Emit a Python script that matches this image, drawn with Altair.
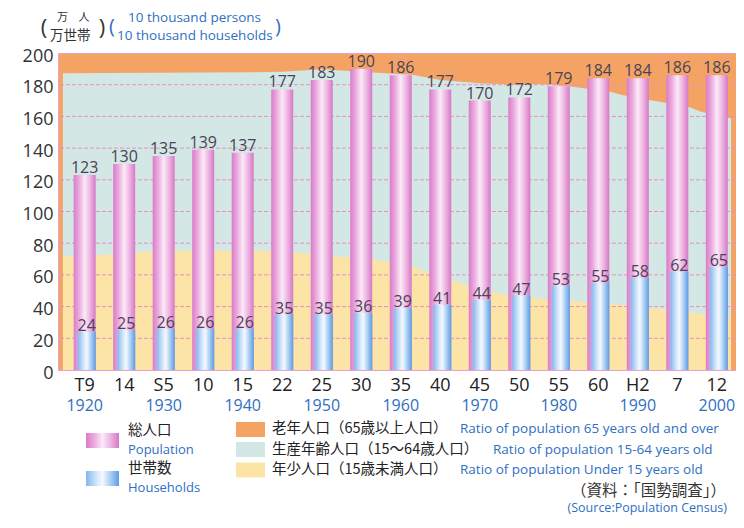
import altair as alt
import pandas as pd

# ---------------- data ----------------
era_labels = ["T9", "14", "S5", "10", "15", "22", "25", "30", "35", "40", "45", "50", "55", "60", "H2", "7", "12"]
year_labels = ["1920", "", "1930", "", "1940", "", "1950", "", "1960", "", "1970", "", "1980", "", "1990", "", "2000"]
population = [123, 130, 135, 139, 137, 177, 183, 190, 186, 177, 170, 172, 179, 184, 184, 186, 186]
households = [24, 25, 26, 26, 26, 35, 35, 36, 39, 41, 44, 47, 53, 55, 58, 62, 65]

# background bands (axis units, 200 = 100 %)
work_x = [-0.55, 4.2, 5.0, 6.0, 7.5, 8.33, 9.0, 10.0, 11.0, 11.5, 12.3, 13.3, 13.6, 14.3, 15.3, 15.6, 16.36]
work_top = [187.2, 187.8, 188.2, 189.7, 187.4, 186.1, 183.0, 180.9, 179.8, 180.5, 178.8, 175.6, 173.5, 170.3, 166.0, 163.0, 158.8]
youth_x = [-0.55, 0.5, 1.5, 2.5, 3.5, 4.5, 5.5, 6.5, 7.3, 8.33, 8.73, 9.5, 10.5, 11.5, 12.5, 13.5, 14.5, 15.5, 16.36]
youth_top = [71.5, 72.6, 74.6, 75.3, 75.3, 75.3, 74.0, 71.5, 69.8, 65.2, 61.0, 54.6, 48.3, 45.1, 43.2, 41.3, 38.8, 35.6, 32.8]
y_ticks = [20, 40, 60, 80, 100, 120, 140, 160, 180]

df = pd.DataFrame({"i": list(range(len(era_labels))), "era": era_labels, "year": year_labels,
                   "pop": population, "hh": households})
work_df = pd.DataFrame({"x": work_x, "v": work_top})
youth_df = pd.DataFrame({"x": youth_x, "v": youth_top})
grid_df = pd.DataFrame({"v": y_ticks})
dummy = pd.DataFrame({"a": [0]})

# ---------------- styles ----------------
ORANGE = "#F4A365"
TEAL = "#D3E7E4"
YELLOW = "#FCE4A6"
GRID = "#E590C4"
BLUE_TXT = "#2F6FC2"
NUM = "Open Sans"
JP = "Noto Sans CJK JP"

pink_grad = alt.Gradient(gradient="linear", x1=0, x2=1, y1=0, y2=0, stops=[
    alt.GradientStop(color="#D97CC9", offset=0),
    alt.GradientStop(color="#EBAADF", offset=0.25),
    alt.GradientStop(color="#FBEAF7", offset=0.5),
    alt.GradientStop(color="#EDB3E2", offset=0.75),
    alt.GradientStop(color="#D678C5", offset=1)])
blue_grad = alt.Gradient(gradient="linear", x1=0, x2=1, y1=0, y2=0, stops=[
    alt.GradientStop(color="#82B8EE", offset=0),
    alt.GradientStop(color="#D8E9FB", offset=0.35),
    alt.GradientStop(color="#F3F9FF", offset=0.5),
    alt.GradientStop(color="#A8CDF3", offset=0.75),
    alt.GradientStop(color="#5C9DE3", offset=1)])

x_scale = alt.Scale(domain=[-0.5486, 16.359], nice=False, zero=False)
y_scale = alt.Scale(domain=[0, 200], nice=False)
y_axis = alt.Axis(values=list(range(0, 201, 20)), labelFontSize=18, labelColor="#333333", labelFont=NUM,
                  domain=False, ticks=False, grid=False, labelPadding=5, labelOffset=3, title=None)


def X(f):
    return alt.X(f, scale=x_scale, axis=None, title=None)


def Y(f):
    return alt.Y(f, scale=y_scale, axis=y_axis, title=None)


OX, OY = 58, 53  # page position of plot origin


def txt(s, px, py, size, color="#222222", font=JP, align="left", baseline="middle"):
    return alt.Chart(dummy).mark_text(text=s, fontSize=size, color=color, font=font, align=align,
                                      baseline=baseline).encode(x=alt.value(px - OX), y=alt.value(py - OY))


def box(px0, px1, py0, py1, color):
    return alt.Chart(dummy).mark_rect(color=color).encode(
        x=alt.value(px0 - OX), x2=alt.value(px1 - OX), y=alt.value(py0 - OY), y2=alt.value(py1 - OY))


teal = alt.Chart(work_df).mark_area(color=TEAL, opacity=1).encode(x=X("x:Q"), y=Y("v:Q"))
yellow = alt.Chart(youth_df).mark_area(color=YELLOW, opacity=1).encode(x=X("x:Q"), y=Y("v:Q"))
grid = alt.Chart(grid_df).mark_rule(color=GRID, strokeDash=[4, 2], strokeWidth=1).encode(y=Y("v:Q"))

base = alt.Chart(df)
pop_bar = base.mark_bar(width=22, color=pink_grad).encode(x=X("i:Q"), y=Y("pop:Q"))
hh_bar = base.mark_bar(width=18, xOffset=2, color=blue_grad).encode(x=X("i:Q"), y=Y("hh:Q"))
pop_lbl = base.mark_text(fontSize=16, color="#4A4458", font=NUM, baseline="alphabetic", dy=-2).encode(
    x=X("i:Q"), y=Y("pop:Q"), text="pop:Q")
hh_lbl = base.mark_text(fontSize=16, color="#4A4458", font=NUM, baseline="alphabetic", dy=-1, dx=2).encode(
    x=X("i:Q"), y=Y("hh:Q"), text="hh:Q")
era_lbl = base.mark_text(fontSize=18, color="#222222", font=NUM, baseline="middle").encode(
    x=X("i:Q"), y=alt.value(386 - OY), text="era:N")
year_lbl = base.mark_text(fontSize=16, color=BLUE_TXT, font=NUM, baseline="middle").encode(
    x=X("i:Q"), y=alt.value(406 - OY), text="year:N")

# unit title
title_layers = [
    txt("(", 44, 28, 22, "#333333", NUM, "center"),
    txt("万", 57, 18, 11, "#333333"),
    txt("人", 84, 18, 11, "#333333", JP, "center"),
    txt("万世帯", 50, 35.5, 13.5, "#333333"),
    txt(")", 102, 28, 22, "#333333", NUM, "center"),
    txt("(", 112, 27, 20, BLUE_TXT, NUM, "center"),
    txt("10 thousand persons", 128, 17.5, 13.5, BLUE_TXT, NUM),
    txt("10 thousand households", 117, 35.5, 13.5, BLUE_TXT, NUM),
    txt(")", 278, 27, 20, BLUE_TXT, NUM, "center"),
]

# legend
legend_layers = [
    box(86, 119, 433, 448, pink_grad),
    txt("総人口", 128, 431, 14.5),
    txt("Population", 128, 450, 13, BLUE_TXT, NUM),
    box(86, 119, 471, 486, blue_grad),
    txt("世帯数", 128, 469, 14.5),
    txt("Households", 128, 488, 13, BLUE_TXT, NUM),
    box(236, 265, 422, 437, ORANGE),
    txt("老年人口（65歳以上人口）", 272, 429, 14.5),
    txt("Ratio of population 65 years old and over", 460, 429, 13.5, BLUE_TXT, NUM),
    box(236, 265, 442, 457, TEAL),
    txt("生産年齢人口（15～64歳人口）", 272, 449.5, 14.5),
    txt("Ratio of population 15-64 years old", 493, 449.5, 13.5, BLUE_TXT, NUM),
    box(236, 265, 462.5, 477.5, YELLOW),
    txt("年少人口（15歳未満人口）", 272, 470, 14.5),
    txt("Ratio of population Under 15 years old", 460, 470, 13.5, BLUE_TXT, NUM),
    txt("（資料：「国勢調査」）", 726, 490.5, 15.5, "#333333", JP, "right"),
    txt("(Source:Population Census)", 727, 507.5, 12.5, BLUE_TXT, NUM, "right"),
]

chart = alt.layer(
    teal, yellow, grid, pop_bar, hh_bar, pop_lbl, hh_lbl, era_lbl, year_lbl,
    *title_layers, *legend_layers
).properties(
    width=678, height=317,
    padding={"left": 50, "top": 45, "right": 0, "bottom": 146},
    autosize=alt.AutoSizeParams(type="none"),
    background="white",
).configure_view(fill=ORANGE, stroke="#E8A3CC", strokeWidth=1)

chart.save("out.html", embed_options={"renderer": "svg", "actions": False})
